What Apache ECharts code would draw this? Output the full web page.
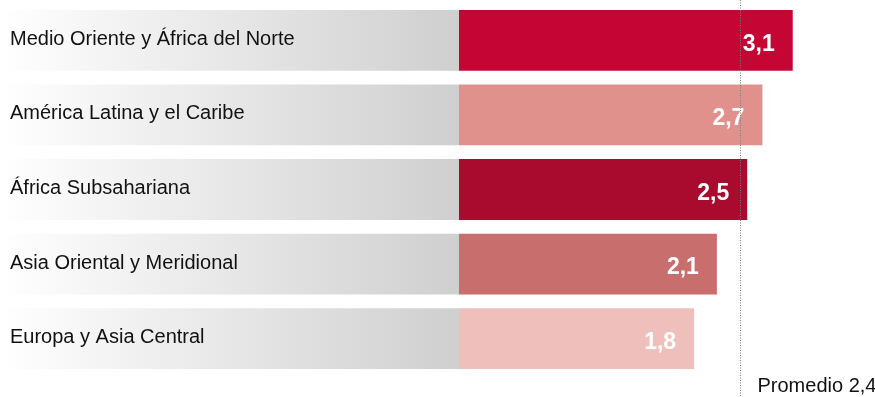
<!DOCTYPE html>
<html>
<head>
<meta charset="utf-8">
<script src="https://cdn.jsdelivr.net/npm/echarts@6/dist/echarts.min.js"></script>
<style>
  html, body { margin: 0; padding: 0; background: #ffffff; }
  #chart { width: 875px; height: 397px; }
</style>
</head>
<body>
<div id="chart"></div>
<script>
// Regions and their values, top to bottom
const regions = [
  'Medio Oriente y África del Norte',
  'América Latina y el Caribe',
  'África Subsahariana',
  'Asia Oriental y Meridional',
  'Europa y Asia Central'
];
const values = [3.1, 2.7, 2.5, 2.1, 1.8];
const average = 2.4;
const averageLabel = 'Promedio';

// Fill colour of each region's bar
const barColors = ['#c50634', '#e1918c', '#a80b2e', '#c86e6d', '#efc0bb'];

// Value where the coloured part of every bar begins
const barStart = -1.3;
const FONT = '"Liberation Sans", Arial, sans-serif';

const fmt = v => v.toFixed(1).replace('.', ',');

const chart = echarts.init(document.getElementById('chart'), null, { renderer: 'canvas' });

const barData = values.map((v, i) => [v, i]);

chart.setOption({
  animation: false,
  backgroundColor: '#ffffff',
  grid: { left: 459, right: 14, top: 3, bottom: 21 },
  xAxis: {
    type: 'value', min: barStart, max: 4,
    show: false
  },
  yAxis: {
    type: 'category', data: regions, inverse: true,
    show: false
  },
  series: [
    {
      type: 'custom',
      data: barData,
      encode: { x: 0, y: 1 },
      renderItem: function (params, api) {
        const idx = api.value(1);
        const v = api.value(0);
        const start = api.coord([barStart, idx]);
        const end = api.coord([v, idx]);
        const bandH = api.size([0, 1])[1];
        const h = bandH * 0.815;
        const top = start[1] - h / 2;
        return {
          type: 'group',
          children: [
            {
              type: 'rect',
              shape: { x: 0, y: top, width: start[0], height: h },
              style: {
                fill: new echarts.graphic.LinearGradient(0, 0, 1, 0, [
                  { offset: 0, color: '#ffffff' },
                  { offset: 1, color: '#cfcfcf' }
                ])
              }
            },
            {
              type: 'rect',
              shape: { x: start[0], y: top, width: end[0] - start[0], height: h },
              style: { fill: barColors[idx] }
            },
            {
              type: 'text',
              x: 10, y: start[1] - 1,
              style: {
                text: regions[idx],
                fill: '#111111',
                font: '20px ' + FONT,
                verticalAlign: 'middle', align: 'left'
              }
            },
            {
              type: 'text',
              x: end[0] - 18, y: start[1] + 4,
              style: {
                text: fmt(v),
                fill: '#ffffff',
                font: 'bold 23px ' + FONT,
                verticalAlign: 'middle', align: 'right'
              }
            }
          ]
        };
      }
    },
    {
      type: 'custom',
      data: [[average, 0]],
      encode: { x: 0, y: 1 },
      z: 5,
      renderItem: function (params, api) {
        const x = Math.round(api.coord([api.value(0), 0])[0]) + 0.5;
        const H = api.getHeight();
        return {
          type: 'group',
          children: [
            {
              type: 'line',
              shape: { x1: x, y1: 0, x2: x, y2: H },
              style: { stroke: '#7a7a7a', lineWidth: 1, lineDash: [1, 1.5] }
            },
            {
              type: 'text',
              x: x + 17, y: 386,
              style: {
                text: averageLabel + ' ' + fmt(api.value(0)),
                fill: '#111111',
                font: '20px ' + FONT,
                verticalAlign: 'middle', align: 'left'
              }
            }
          ]
        };
      }
    }
  ]
});
</script>
</body>
</html>
